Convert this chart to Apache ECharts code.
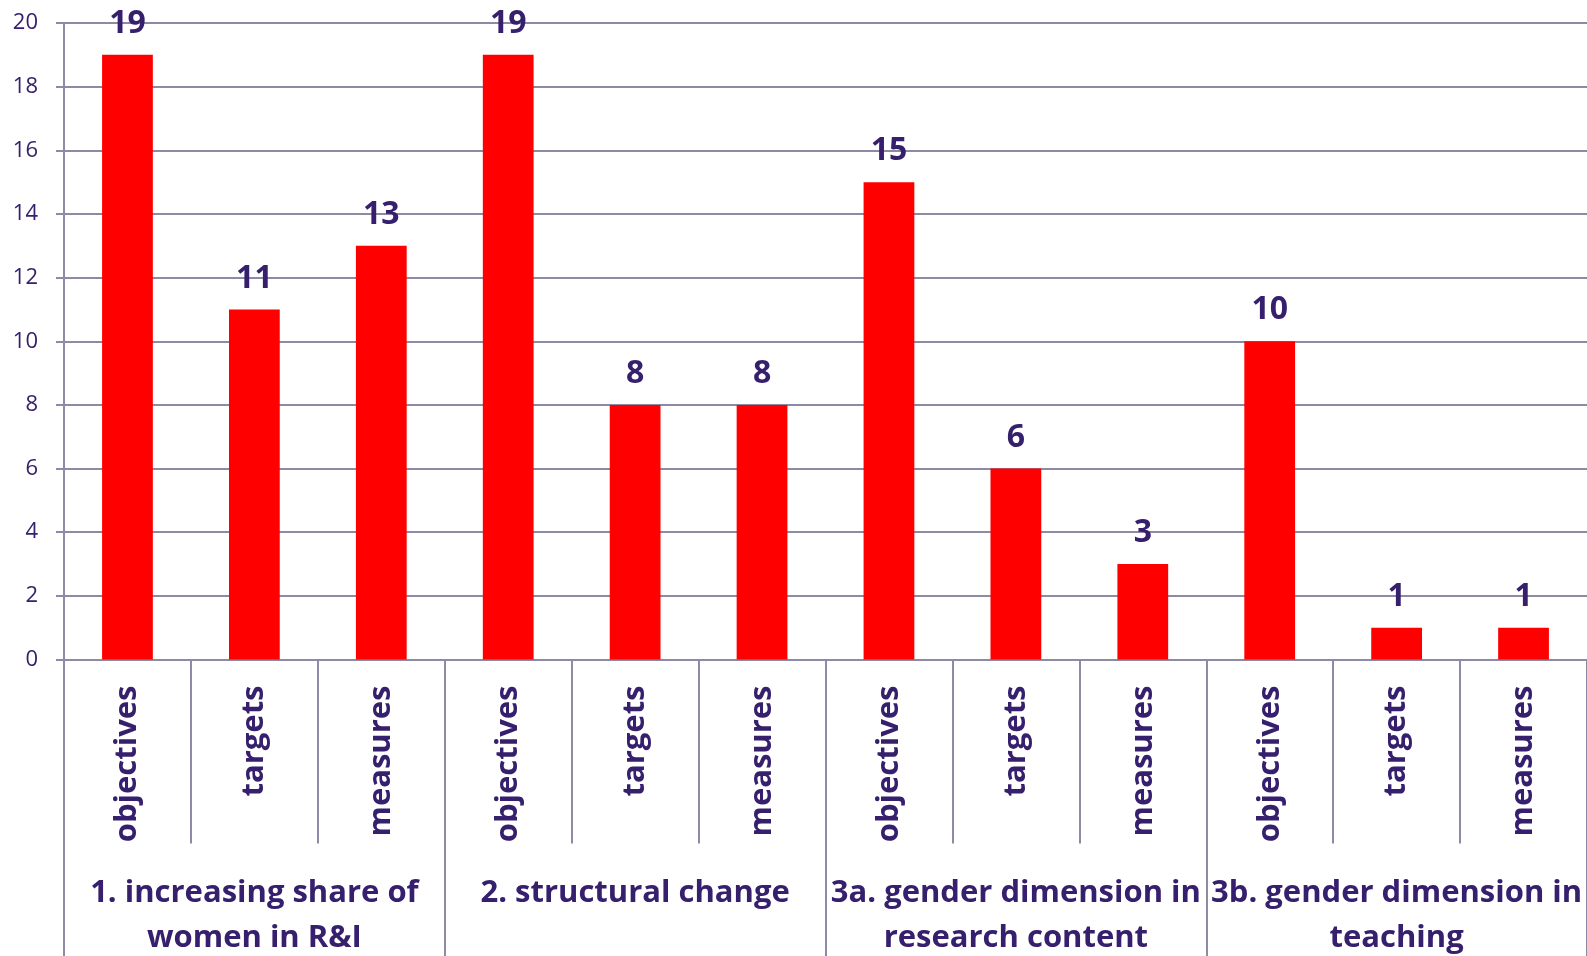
<!DOCTYPE html>
<html>
<head>
<meta charset="utf-8">
<script src="https://cdn.jsdelivr.net/npm/echarts@6/dist/echarts.min.js"></script>
<style>
html,body{margin:0;padding:0;background:#fff;}
#chart{width:1587px;height:956px;}
</style>
</head>
<body>
<div id="chart"></div>
<script>
// Data
var subCategories = ['objectives','targets','measures','objectives','targets','measures','objectives','targets','measures','objectives','targets','measures'];
var groups = ['1. increasing share of\nwomen in R&I', '2. structural change', '3a. gender dimension in\nresearch content', '3b. gender dimension in\nteaching'];
var values = [19, 11, 13, 19, 8, 8, 15, 6, 3, 10, 1, 1];
var yTicks = {min: 0, max: 20, interval: 2};

var textColor = '#36206E';
var lineColor = '#8E8AA6';
var font = 'Open Sans';

var chart = echarts.init(document.getElementById('chart'), null, {renderer: 'canvas'});
chart.setOption({
  animation: false,
  backgroundColor: '#ffffff',
  grid: {left: 64, right: 0, top: 23, bottom: 296.5, containLabel: false, outerBoundsMode: 'none'},
  xAxis: [{
    type: 'category',
    data: subCategories,
    axisLine: {show: true, lineStyle: {color: lineColor, width: 2}},
    axisTick: {show: true, interval: 0, length: 184, lineStyle: {color: lineColor, width: 2}},
    axisLabel: {interval: 0, rotate: 90, margin: 26, color: textColor, fontFamily: font, fontWeight: 'bold', fontSize: 31}
  }, {
    type: 'category',
    data: groups,
    position: 'bottom',
    offset: 184,
    axisLine: {show: false},
    axisTick: {show: true, interval: 0, length: 113, lineStyle: {color: lineColor, width: 2}},
    axisLabel: {interval: 0, margin: 27, color: textColor, fontFamily: font, fontWeight: 'bold', fontSize: 31, lineHeight: 45}
  }],
  yAxis: {
    type: 'value',
    min: yTicks.min, max: yTicks.max, interval: yTicks.interval,
    axisLine: {show: true, lineStyle: {color: lineColor, width: 2}},
    axisTick: {show: true, length: 8, lineStyle: {color: lineColor, width: 2}},
    splitLine: {show: true, lineStyle: {color: lineColor, width: 2}},
    axisLabel: {margin: 26, color: textColor, fontFamily: font, fontSize: 22}
  },
  series: [{
    type: 'bar',
    xAxisIndex: 0,
    data: values,
    barWidth: '40%',
    itemStyle: {color: '#FF0000'},
    label: {show: true, position: 'top', distance: 15, color: textColor, fontFamily: font, fontWeight: 'bold', fontSize: 32}
  }]
});
</script>
</body>
</html>
